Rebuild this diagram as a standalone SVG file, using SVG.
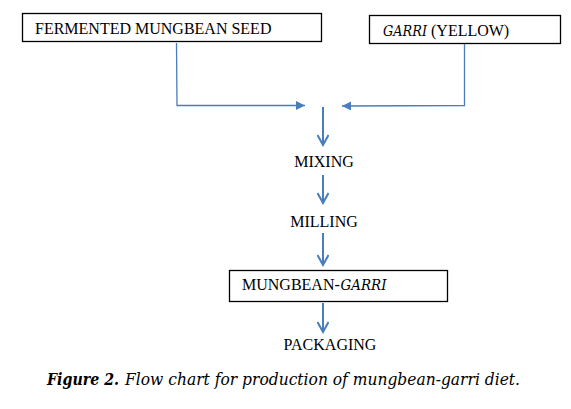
<svg xmlns="http://www.w3.org/2000/svg" width="571" height="409" viewBox="0 0 571 409">
<style>
.box{fill:#fff;stroke:#000;stroke-width:1.3}
.t{font-family:"Liberation Serif","Times New Roman",serif;font-size:16px;fill:#000}
.i{font-family:"DejaVu Serif","Liberation Serif",serif;font-style:italic;font-size:15px;fill:#000}
.c{fill:none;stroke:#4A7EBB;stroke-width:1.3}
.v{fill:none;stroke:#4A7EBB;stroke-width:2}
.cap{font-family:"DejaVu Serif","Liberation Serif",serif;font-size:16.5px;font-style:italic;fill:#000}
</style>
<defs>
<marker id="tri" viewBox="0 0 10 10" refX="10" refY="5" markerWidth="10" markerHeight="9" markerUnits="userSpaceOnUse" orient="auto">
<path d="M0,0 L10,5 L0,10 Z" fill="#4A7EBB"/>
</marker>
<marker id="vee" viewBox="0 0 14 12" refX="12" refY="6" markerWidth="14" markerHeight="12" markerUnits="userSpaceOnUse" orient="auto">
<path d="M2,0.5 L12,6 L2,11.5" fill="none" stroke="#4A7EBB" stroke-width="2"/>
</marker>
</defs>
<g id="n-fermented">
<rect class="box" x="22.5" y="13.5" width="299" height="28"/>
<text class="t" x="35" y="34">FERMENTED MUNGBEAN SEED</text>
</g>
<g id="n-garri">
<rect class="box" x="369.5" y="15.5" width="191" height="28"/>
<text class="i" x="383" y="36" textLength="44" lengthAdjust="spacingAndGlyphs">GARRI</text>
<text class="t" x="431" y="36">(YELLOW)</text>
</g>
<g id="n-mixing">
<text class="t" x="324" y="167" text-anchor="middle">MIXING</text>
</g>
<g id="n-milling">
<text class="t" x="324" y="227" text-anchor="middle">MILLING</text>
</g>
<g id="n-mungbean-garri">
<rect class="box" x="229.5" y="270.5" width="218" height="31"/>
<text class="t" x="242" y="290">MUNGBEAN-</text>
<text class="i" x="340.5" y="290" textLength="46" lengthAdjust="spacingAndGlyphs">GARRI</text>
</g>
<g id="n-packaging">
<text class="t" x="330" y="350" text-anchor="middle">PACKAGING</text>
</g>
<g id="connectors">
<polyline class="c" points="176.5,43 177,105.5 305,105.5" marker-end="url(#tri)"/>
<polyline class="c" points="464.5,44 464.5,105.5 342,106" marker-end="url(#tri)"/>
<line class="v" x1="323" y1="107" x2="323" y2="145" marker-end="url(#vee)"/>
<line class="v" x1="323" y1="175" x2="323" y2="203" marker-end="url(#vee)"/>
<line class="v" x1="323" y1="233" x2="323" y2="265" marker-end="url(#vee)"/>
<line class="v" x1="323" y1="303" x2="323" y2="332" marker-end="url(#vee)"/>
</g>
<g id="caption">
<text class="cap" x="47" y="385" font-weight="bold" textLength="72" lengthAdjust="spacingAndGlyphs">Figure 2.</text>
<text class="cap" x="125" y="385" textLength="395" lengthAdjust="spacingAndGlyphs">Flow chart for production of mungbean-garri diet.</text>
</g>
</svg>
